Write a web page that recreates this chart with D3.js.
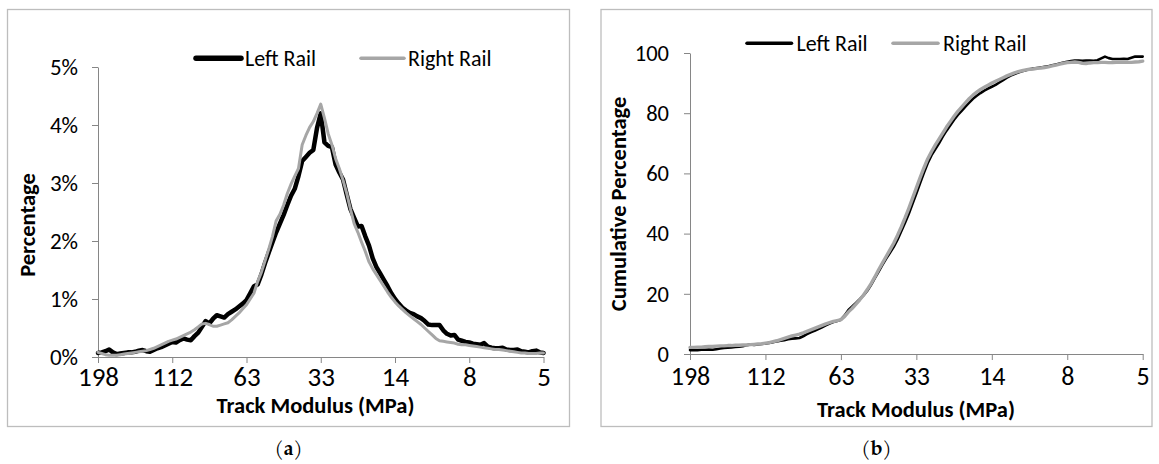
<!DOCTYPE html>
<html>
<head>
<meta charset="utf-8">
<script src="https://cdn.jsdelivr.net/npm/d3@7"></script>
<style>
  html, body { margin: 0; padding: 0; background: #fff; }
  svg { display: block; }
  text { font-family: Carlito, Calibri, Lato, sans-serif; fill: #000; }
  .caption { font-family: "Palatino Linotype", "TeX Gyre Pagella", "Liberation Serif", serif; }
</style>
</head>
<body>
<svg id="chart" width="1159" height="464"></svg>
<script>
// Track modulus bins (MPa), stiff to soft; labels shown every 20 bins
const tickLabels = ["198", "112", "63", "33", "14", "8", "5"];
const seriesNames = ["Left Rail", "Right Rail"];
const binCount = 121;

// Share of track length in each modulus bin (%)
const leftRailPct = [
  0.07,0.08,0.10,0.13,0.08,0.05,0.06,0.07,0.08,0.08,
  0.09,0.11,0.12,0.10,0.09,0.12,0.15,0.17,0.20,0.23,
  0.26,0.25,0.29,0.32,0.30,0.29,0.36,0.42,0.52,0.62,
  0.58,0.66,0.72,0.70,0.68,0.74,0.78,0.82,0.87,0.92,
  0.98,1.10,1.22,1.25,1.42,1.62,1.80,1.98,2.15,2.30,
  2.45,2.62,2.78,2.90,3.12,3.38,3.45,3.52,3.57,3.95,
  4.20,3.70,3.64,3.62,3.32,3.18,3.06,2.80,2.55,2.40,
  2.25,2.26,2.08,1.92,1.70,1.55,1.44,1.33,1.22,1.10,
  1.00,0.92,0.85,0.80,0.76,0.74,0.70,0.67,0.62,0.56,
  0.55,0.55,0.55,0.46,0.40,0.37,0.38,0.30,0.28,0.26,
  0.25,0.23,0.22,0.21,0.24,0.18,0.16,0.15,0.15,0.16,
  0.13,0.12,0.12,0.13,0.10,0.09,0.08,0.10,0.11,0.08,0.07
];
const rightRailPct = [
  0.08,0.06,0.04,0.03,0.03,0.03,0.04,0.05,0.06,0.07,
  0.08,0.09,0.10,0.11,0.13,0.15,0.18,0.21,0.24,0.27,
  0.29,0.31,0.34,0.37,0.40,0.43,0.47,0.52,0.57,0.58,
  0.56,0.53,0.53,0.55,0.57,0.59,0.64,0.70,0.76,0.83,
  0.90,1.00,1.10,1.30,1.46,1.66,1.86,2.08,2.35,2.46,
  2.62,2.82,2.98,3.12,3.25,3.66,3.82,3.96,4.06,4.20,
  4.36,4.12,3.85,3.66,3.42,3.25,3.05,2.82,2.55,2.30,
  2.15,1.98,1.82,1.64,1.52,1.42,1.32,1.22,1.12,1.03,
  0.95,0.88,0.82,0.76,0.71,0.66,0.61,0.56,0.50,0.44,
  0.38,0.32,0.28,0.27,0.26,0.25,0.24,0.22,0.21,0.21,
  0.20,0.19,0.18,0.17,0.16,0.15,0.14,0.13,0.13,0.12,
  0.11,0.10,0.09,0.08,0.07,0.07,0.06,0.06,0.06,0.07,0.07
];

// Cumulative share of track length (%)
const leftRailCum = [
  1.3,1.3,1.3,1.4,1.4,1.5,1.4,1.6,1.8,2.0,
  2.1,2.2,2.3,2.4,2.6,2.9,3.2,3.0,3.2,3.3,
  3.5,3.7,3.9,4.2,4.4,4.6,4.9,5.1,5.2,5.3,
  5.9,6.6,7.2,7.7,8.3,8.9,9.5,10.1,10.6,11.0,
  11.4,12.8,14.6,15.8,17.0,18.2,19.5,21.0,23.0,25.2,
  27.4,29.6,31.7,33.6,35.6,38.0,40.8,43.6,46.6,50.0,
  53.3,56.8,60.2,63.4,66.0,68.0,70.0,72.2,74.2,76.0,
  77.8,79.4,80.8,82.2,83.5,84.8,85.8,86.7,87.5,88.2,
  88.8,89.4,90.2,91.0,91.8,92.5,93.0,93.5,93.9,94.3,
  94.6,94.8,95.0,95.2,95.4,95.6,95.9,96.2,96.5,96.8,
  97.1,97.3,97.5,97.5,97.4,97.5,97.5,97.4,97.6,98.2,
  98.8,98.3,98.0,98.0,98.0,98.1,98.0,98.4,98.8,98.8,98.8
];
const rightRailCum = [
  2.2,2.2,2.3,2.3,2.4,2.5,2.5,2.6,2.7,2.7,
  2.8,2.8,2.9,2.9,3.0,3.0,3.1,3.2,3.3,3.4,
  3.6,3.8,4.1,4.4,4.8,5.2,5.6,6.0,6.3,6.6,
  7.0,7.5,8.0,8.5,9.0,9.5,10.0,10.4,10.8,11.1,
  11.4,12.5,14.0,15.2,16.6,18.0,19.6,21.4,23.4,25.6,
  28.0,30.2,32.4,34.6,36.8,39.4,42.2,45.2,48.4,51.8,
  55.2,58.6,61.8,64.8,67.2,69.4,71.4,73.4,75.4,77.2,
  79.0,80.6,82.0,83.4,84.8,86.0,87.0,87.9,88.6,89.3,
  90.0,90.6,91.2,91.8,92.4,92.9,93.4,93.8,94.1,94.4,
  94.6,94.7,94.9,95.0,95.2,95.4,95.7,96.0,96.3,96.6,
  96.8,96.9,97.0,96.9,96.6,96.5,96.7,96.8,96.8,96.9,
  96.9,96.8,96.8,96.9,96.9,96.9,96.9,96.9,97.0,97.1,97.3
];

const pctTicks = [0, 1, 2, 3, 4, 5];
const cumTicks = [0, 20, 40, 60, 80, 100];

const svg = d3.select("#chart");
const bins = d3.range(binCount);
const labelTickValues = d3.range(0, binCount, 20);

function drawPanel(p) {
  const g = svg.append("g");

  // outer frame
  g.append("rect")
    .attr("x", p.frame[0]).attr("y", p.frame[1])
    .attr("width", p.frame[2] - p.frame[0]).attr("height", p.frame[3] - p.frame[1])
    .attr("fill", "none").attr("stroke", "#bdbdbd").attr("stroke-width", 1.3);

  const x = d3.scaleLinear().domain([0, binCount - 1]).range(p.xRange);
  const y = d3.scaleLinear().domain(p.yDomain).range(p.yRange);

  // x axis
  const xAxis = g.append("g")
    .attr("transform", `translate(0,${p.yRange[0]})`)
    .call(d3.axisBottom(x)
      .tickValues(labelTickValues)
      .tickFormat((d, i) => tickLabels[i])
      .tickSize(6).tickSizeOuter(0).tickPadding(7));
  xAxis.select(".domain").attr("stroke", "#868686");
  xAxis.selectAll(".tick line").attr("stroke", "#868686");
  xAxis.selectAll(".tick text")
    .attr("font-family", null)
    .attr("font-size", p.xTickSize)
    .attr("dy", null)
    .attr("y", p.xTickBaseline - p.yRange[0]);

  // y axis
  const yAxis = g.append("g")
    .attr("transform", `translate(${p.xRange[0]},0)`)
    .call(d3.axisLeft(y)
      .tickValues(p.yTicks)
      .tickFormat(p.yFormat)
      .tickSize(6).tickSizeOuter(0).tickPadding(p.yTickPad));
  yAxis.select(".domain").attr("stroke", "#868686");
  yAxis.selectAll(".tick line").attr("stroke", "#868686");
  yAxis.selectAll(".tick text")
    .attr("font-family", null)
    .attr("font-size", p.yTickSize);

  // series lines: left rail beneath, right rail on top
  const line = d3.line()
    .x((d, i) => x(bins[i]))
    .y(d => y(d))
    .curve(d3.curveLinear);

  p.series.forEach(s => {
    g.append("path")
      .datum(s.values)
      .attr("fill", "none")
      .attr("stroke", s.color)
      .attr("stroke-width", s.width)
      .attr("stroke-linejoin", "round")
      .attr("stroke-linecap", "round")
      .attr("d", line);
  });

  // legend
  p.series.forEach((s, i) => {
    const L = p.legend[i];
    g.append("line")
      .attr("x1", L.x1).attr("x2", L.x2)
      .attr("y1", p.legendY).attr("y2", p.legendY)
      .attr("stroke", s.color).attr("stroke-width", s.legendWidth)
      .attr("stroke-linecap", "round");
    g.append("text")
      .attr("x", L.tx).attr("y", p.legendY + p.legendBaseOff)
      .attr("font-size", p.legendSize)
      .text(s.name);
  });

  // axis titles
  g.append("text")
    .attr("x", p.xTitle[0]).attr("y", p.xTitle[1])
    .attr("text-anchor", "middle")
    .attr("font-weight", "bold")
    .attr("font-size", p.titleSize)
    .text("Track Modulus (MPa)");

  g.append("text")
    .attr("transform", `translate(${p.yTitle[0]},${p.yTitle[1]}) rotate(-90)`)
    .attr("text-anchor", "middle")
    .attr("font-weight", "bold")
    .attr("font-size", p.titleSize)
    .text(p.yTitleText);

  // panel caption
  const cap = g.append("text")
    .attr("class", "caption")
    .attr("x", (p.frame[0] + p.frame[2]) / 2)
    .attr("y", 455)
    .attr("text-anchor", "middle")
    .attr("font-size", 20);
  cap.append("tspan").text("(");
  cap.append("tspan").attr("font-weight", "bold").text(p.caption);
  cap.append("tspan").text(")");
}

drawPanel({
  frame: [7.5, 9.5, 569.5, 426.5],
  xRange: [98, 543.5],
  yRange: [357, 67],
  yDomain: [0, 5],
  yTicks: pctTicks,
  yFormat: d => d + "%",
  yTickPad: 14,
  yTickSize: 23,
  xTickSize: 27,
  xTickBaseline: 386,
  series: [
    { name: seriesNames[0], values: leftRailPct, color: "#000000", width: 4.5, legendWidth: 5.5 },
    { name: seriesNames[1], values: rightRailPct, color: "#a6a6a6", width: 3, legendWidth: 3.5 }
  ],
  legendY: 58.3,
  legendBaseOff: 7.3,
  legendSize: 22,
  legend: [ { x1: 196, x2: 241, tx: 245 }, { x1: 361, x2: 404, tx: 408 } ],
  titleSize: 22.5,
  xTitle: [315.5, 412.5],
  yTitle: [35, 225],
  yTitleText: "Percentage",
  caption: "a"
});

drawPanel({
  frame: [601, 9.5, 1152, 426.5],
  xRange: [690, 1142.7],
  yRange: [354, 53],
  yDomain: [0, 100],
  yTicks: cumTicks,
  yFormat: d => String(d),
  yTickPad: 15,
  yTickSize: 22.5,
  xTickSize: 26,
  xTickBaseline: 384.5,
  series: [
    { name: seriesNames[0], values: leftRailCum, color: "#000000", width: 2.6, legendWidth: 3.5 },
    { name: seriesNames[1], values: rightRailCum, color: "#a6a6a6", width: 3.4, legendWidth: 3.5 }
  ],
  legendY: 43.3,
  legendBaseOff: 7.3,
  legendSize: 22,
  legend: [ { x1: 747, x2: 791.5, tx: 796.5 }, { x1: 893, x2: 938, tx: 943 } ],
  titleSize: 22.5,
  xTitle: [916, 417.3],
  yTitle: [626, 204],
  yTitleText: "Cumulative Percentage",
  caption: "b"
});
</script>
</body>
</html>
